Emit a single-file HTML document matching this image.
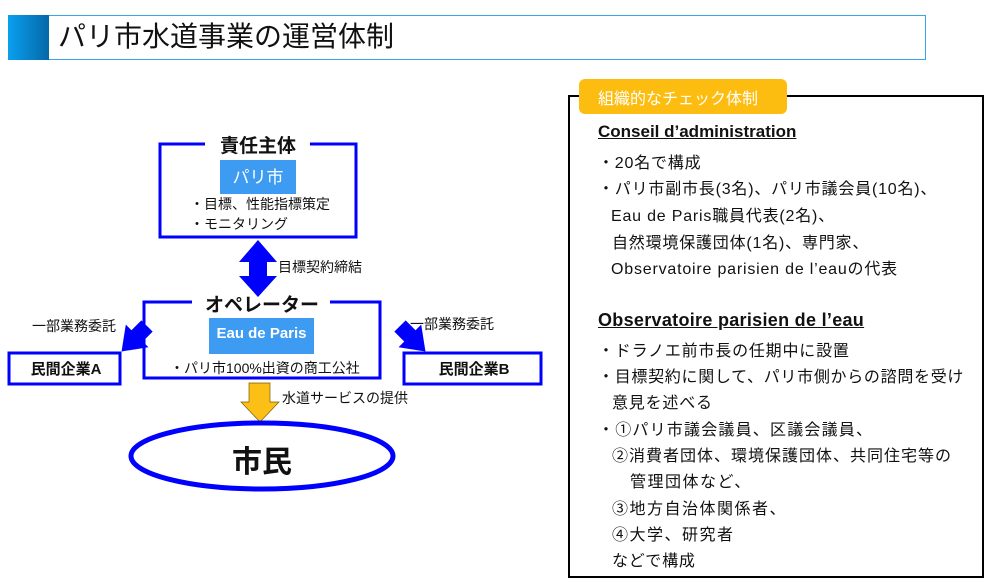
<!DOCTYPE html>
<html><head><meta charset="utf-8"><style>
body{margin:0;width:1000px;height:588px;background:#fff;position:relative;overflow:hidden;font-family:"Liberation Sans","Noto Sans CJK JP",sans-serif;color:#111}
.a{position:absolute;white-space:nowrap}
.r{position:absolute;white-space:nowrap;font-size:16px;left:598px;letter-spacing:0.8px}
</style></head><body>
<div class="a" style="left:8px;top:15px;width:916px;height:43px;border:1px solid #39a7e6;"></div>
<div class="a" style="left:8px;top:15px;width:41px;height:45px;background:linear-gradient(90deg,#0aa0ef,#0568a8);"></div>
<div class="a" style="left:58px;top:16px;font-size:28px;line-height:42px;">パリ市水道事業の運営体制</div>

<svg class="a" style="left:0;top:0" width="560" height="588">
<path d="M205 144 H160 V237 H356 V144 H310" fill="none" stroke="#0000ff" stroke-width="3"/>
<rect x="220" y="160" width="76" height="34" fill="#3d9bf2"/>
<polygon points="258,240 277,262 267,262 267,276 277,276 258,297 239,276 249,276 249,262 239,262" fill="#0000ff"/>
<path d="M192 302 H144 V378 H380 V302 H330" fill="none" stroke="#0000ff" stroke-width="3"/>
<rect x="209" y="318" width="105" height="36" fill="#3d9bf2"/>
<rect x="9" y="353" width="111" height="31" fill="none" stroke="#0000ff" stroke-width="3"/>
<rect x="404" y="353" width="137" height="31" fill="none" stroke="#0000ff" stroke-width="3"/>
<g transform="translate(147,326) rotate(135)"><polygon points="0,-8 14,-8 14,-16 36,0 14,16 14,8 0,8" fill="#0000ff"/></g>
<g transform="translate(400,326) rotate(45)"><polygon points="0,-8 14,-8 14,-16 36,0 14,16 14,8 0,8" fill="#0000ff"/></g>
<polygon points="249,383 270,383 270,402 279,402 260,422 241,402 249,402" fill="#fbbf15" stroke="#7a5a00" stroke-width="0.7"/>
<ellipse cx="262" cy="456" rx="131" ry="33" fill="none" stroke="#0000ff" stroke-width="5"/>
</svg>
<div class="a" style="left:208px;top:131px;width:100px;text-align:center;font-size:19px;font-weight:bold;">責任主体</div>
<div class="a" style="left:220px;top:163px;width:76px;text-align:center;font-size:17px;color:#fff;">パリ市</div>
<div class="a" style="left:190px;top:194px;font-size:14px;line-height:20px;">・目標、性能指標策定<br>・モニタリング</div>
<div class="a" style="left:278px;top:257px;font-size:14px;">目標契約締結</div>
<div class="a" style="left:195px;top:290px;width:134px;text-align:center;font-size:19px;font-weight:bold;">オペレーター</div>
<div class="a" style="left:209px;top:325px;width:105px;text-align:center;font-size:15px;font-weight:bold;color:#fff;">Eau de Paris</div>
<div class="a" style="left:170px;top:358px;font-size:14px;">・パリ市100%出資の商工公社</div>
<div class="a" style="left:32px;top:316px;font-size:14px;">一部業務委託</div>
<div class="a" style="left:410px;top:314px;font-size:14px;">一部業務委託</div>
<div class="a" style="left:9px;top:358px;width:114px;text-align:center;font-size:15px;font-weight:bold;">民間企業A</div>
<div class="a" style="left:404px;top:358px;width:140px;text-align:center;font-size:15px;font-weight:bold;">民間企業B</div>
<div class="a" style="left:282px;top:388px;font-size:14px;">水道サービスの提供</div>
<div class="a" style="left:212px;top:437px;width:100px;text-align:center;font-size:30px;font-weight:bold;">市民</div>

<div class="a" style="left:568px;top:95px;width:412px;height:479px;border:2px solid #000;"></div>
<div class="a" style="left:579px;top:79px;width:208px;height:35px;background:#fdbd10;border-radius:6px;"></div>
<div class="a" style="left:598px;top:85px;font-size:16px;color:#fff;">組織的なチェック体制</div>
<div class="r" style="top:122px;font-weight:bold;font-size:17px;letter-spacing:0;text-decoration:underline;">Conseil d’administration</div>
<div class="r" style="top:149px;">・20名で構成</div>
<div class="r" style="top:175px;">・パリ市副市長(3名)、パリ市議会員(10名)、</div>
<div class="r" style="top:202px;left:611px;">Eau de Paris職員代表(2名)、</div>
<div class="r" style="top:229px;left:612px;">自然環境保護団体(1名)、専門家、</div>
<div class="r" style="top:255px;left:611px;">Observatoire parisien de l’eauの代表</div>
<div class="r" style="top:310px;font-weight:bold;font-size:18px;letter-spacing:0.3px;text-decoration:underline;">Observatoire parisien de l’eau</div>
<div class="r" style="top:337px;">・ドラノエ前市長の任期中に設置</div>
<div class="r" style="top:363px;letter-spacing:0.7px;">・目標契約に関して、パリ市側からの諮問を受け</div>
<div class="r" style="top:389px;left:612px;">意見を述べる</div>
<div class="r" style="top:416px;letter-spacing:1.2px;">・①パリ市議会議員、区議会議員、</div>
<div class="r" style="top:442px;left:612px;letter-spacing:1px;">②消費者団体、環境保護団体、共同住宅等の</div>
<div class="r" style="top:468px;left:630px;letter-spacing:1.5px;">管理団体など、</div>
<div class="r" style="top:495px;left:612px;letter-spacing:1.5px;">③地方自治体関係者、</div>
<div class="r" style="top:521px;left:612px;letter-spacing:1.5px;">④大学、研究者</div>
<div class="r" style="top:547px;left:612px;">などで構成</div>
</body></html>
